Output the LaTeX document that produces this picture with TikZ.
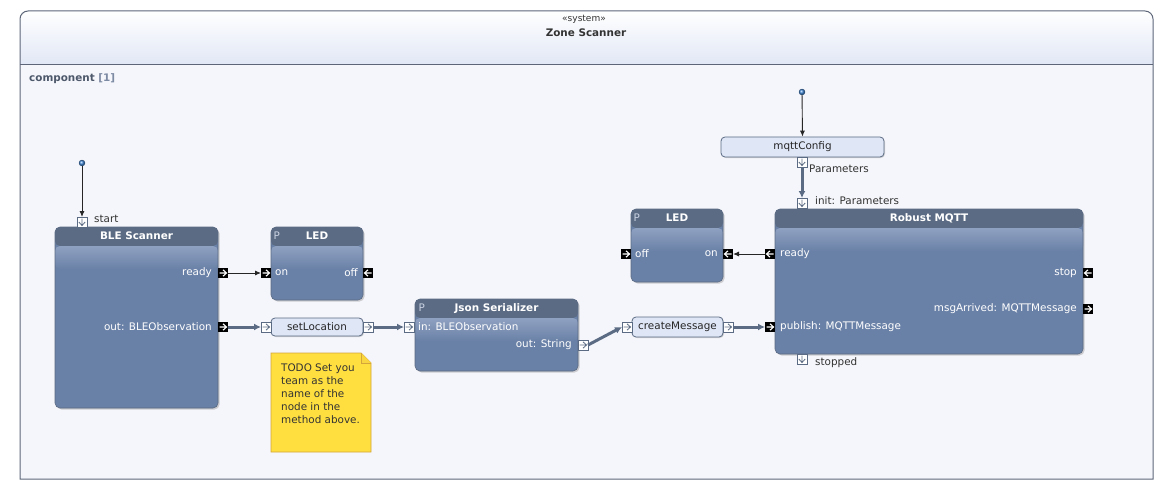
\documentclass[tikz,border=0pt]{standalone}
\usepackage{fontspec}
\setmainfont{DejaVu Sans}
\usetikzlibrary{arrows.meta,positioning,shadows}
\definecolor{frameline}{HTML}{5D6679}
\definecolor{framehead}{HTML}{E1E7F5}
\definecolor{framebody}{HTML}{F5F6FB}
\definecolor{blockhead}{HTML}{5B6B83}
\definecolor{blockband}{HTML}{8FA1C1}
\definecolor{blockbody}{HTML}{6A81A7}
\definecolor{flowline}{HTML}{5B6B83}
\definecolor{opfill}{HTML}{DFE6F6}
\definecolor{notefill}{HTML}{FFDF40}
\definecolor{noteline}{HTML}{D4A53A}
\definecolor{labeltext}{HTML}{333333}
\definecolor{comptext}{HTML}{4D586B}
\definecolor{compindex}{HTML}{7D8AA3}
\definecolor{pintext}{HTML}{C9D2E3}
\definecolor{dotblue}{HTML}{3C84D4}
\newcommand{\lblsize}{\fontsize{10.4pt}{12.8pt}\selectfont}
% pin glyphs: right, left, down
\newcommand{\pinpathr}{(path picture bounding box.center) ++(-3.5pt,0pt) -- ++(7pt,0pt)
  ++(-3.5pt,3.2pt) -- ++(3.5pt,-3.2pt) -- ++(-3.5pt,-3.2pt)}
\newcommand{\pinpathl}{(path picture bounding box.center) ++(3.5pt,0pt) -- ++(-7pt,0pt)
  ++(3.5pt,3.2pt) -- ++(-3.5pt,-3.2pt) -- ++(3.5pt,-3.2pt)}
\newcommand{\pinpathd}{(path picture bounding box.center) ++(0pt,3.5pt) -- ++(0pt,-7pt)
  ++(-3.2pt,3.5pt) -- ++(3.2pt,-3.5pt) -- ++(3.2pt,3.5pt)}
\tikzset{
  blockbox/.style={draw=blockhead, line width=0.6pt, fill=blockbody, rounded corners=5pt,
    inner sep=0pt, drop shadow={shadow xshift=1.5pt,shadow yshift=-1.5pt,opacity=0.35},
    path picture={
      \fill[blockhead] ([yshift=1pt]path picture bounding box.north west)
        rectangle ([yshift=-19pt]path picture bounding box.north east);
      \shade[top color=blockband, bottom color=blockbody]
        ([yshift=-19pt]path picture bounding box.north west)
        rectangle ([yshift=-42pt]path picture bounding box.north east);}},
  blocktitle/.style={font=\lblsize\bfseries, text=white, inner sep=1pt},
  ptag/.style={font=\lblsize, text=pintext, inner sep=1pt},
  inlabel/.style={font=\lblsize, text=white, inner sep=1pt},
  outlabel/.style={font=\lblsize, text=labeltext, inner sep=1pt},
  opbox/.style={draw=flowline, line width=0.8pt, fill=opfill, rounded corners=4pt,
    font=\lblsize, text=black!85, inner sep=0pt,
    drop shadow={shadow xshift=1pt,shadow yshift=-1pt,opacity=0.3}},
  pin/.style={rectangle, inner sep=0pt, outer sep=0pt, minimum size=10pt},
  blackpin/.style={pin, fill=black, path picture={
    \draw[white, line width=1.1pt] \csname pinpath#1\endcsname;}},
  whitepin/.style={pin, fill=white, draw=flowline, line width=0.6pt, path picture={
    \draw[flowline, line width=0.8pt] \csname pinpath#1\endcsname;}},
  startdot/.style={circle, inner sep=0pt, minimum size=6pt, shading=ball, ball color=dotblue,
    draw=dotblue!50!black, line width=0.3pt},
  ctrl/.style={draw=black!85, line width=0.9pt, -{Latex[length=6pt,width=5pt]}},
  flow/.style={draw=flowline, line width=3pt, -{Latex[length=7pt,width=7pt]}},
}
\begin{document}
\begin{tikzpicture}[x=1pt,y=-1pt]
\useasboundingbox (0,0) rectangle (1167,492);
% frame
\fill[framebody] (20,65) rectangle (1153,479);
\shade[top color=white, bottom color=framehead] (20,65) -- (20,19) .. controls (20,14.6) and (23.6,11) .. (28,11)
  -- (1145,11) .. controls (1149.4,11) and (1153,14.6) .. (1153,19) -- (1153,65) -- cycle;
\draw[frameline, line width=1pt] (20,479) -- (20,19) .. controls (20,14.6) and (23.6,11) .. (28,11)
  -- (1145,11) .. controls (1149.4,11) and (1153,14.6) .. (1153,19) -- (1153,479) -- cycle;
\draw[frameline, line width=1pt] (20,65) -- (1153,65);
\node[font=\fontsize{9pt}{11pt}\selectfont, text=labeltext] (sysTag) at (584,19) {«system»};
\node[font=\lblsize\bfseries, text=labeltext] (sysName) at (586,33) {Zone Scanner};
\node[anchor=west, font=\lblsize\bfseries, inner sep=1pt] (compName) at (28,79)
  {\textcolor{comptext}{component} \textcolor{compindex}{[1]}};
%
% blocks
\node[blockbox, minimum width=163pt, minimum height=181pt] (bleBlk) at (136.5,317.5) {};
\node[blockbox, minimum width=92pt, minimum height=73pt] (ledA) at (317,263.5) {};
\node[blockbox, minimum width=163pt, minimum height=72pt] (jsonBlk) at (496.5,335) {};
\node[blockbox, minimum width=92pt, minimum height=73pt] (ledB) at (677,245.5) {};
\node[blockbox, minimum width=308pt, minimum height=145pt] (mqttBlk) at (929,281.5) {};
\node[blocktitle] (bleTitle) at ([yshift=-9.5pt]bleBlk.north) {BLE Scanner};
\node[blocktitle] (ledATitle) at ([yshift=-9.5pt]ledA.north) {LED};
\node[ptag] (ledATag) at ([xshift=6pt,yshift=-9.5pt]ledA.north west) {P};
\node[blocktitle] (jsonTitle) at ([yshift=-9.5pt]jsonBlk.north) {Json Serializer};
\node[ptag] (jsonTag) at ([xshift=7pt,yshift=-9.5pt]jsonBlk.north west) {P};
\node[blocktitle] (ledBTitle) at ([yshift=-9.5pt]ledB.north) {LED};
\node[ptag] (ledBTag) at ([xshift=6pt,yshift=-9.5pt]ledB.north west) {P};
\node[blocktitle] (mqttTitle) at ([yshift=-9.5pt]mqttBlk.north) {Robust MQTT};
%
% operations
\node[opbox, minimum width=92pt, minimum height=18pt] (setLoc) at (317,327) {setLocation};
\node[opbox, minimum width=91pt, minimum height=20pt] (makeMsg) at (677.5,327) {createMessage};
\node[opbox, minimum width=163pt, minimum height=20pt] (mqttCfg) at (802.5,147) {mqttConfig};
%
% pins
\node[whitepin=d] (bleStart) at (82,222) {};
\node[blackpin=r] (bleReady) at (223,273) {};
\node[blackpin=r] (bleOut) at (223,327) {};
\node[blackpin=r] (ledAOn) at (266,273) {};
\node[blackpin=l] (ledAOff) at (368,273) {};
\node[whitepin=r] (setLocIn) at (266,327) {};
\node[whitepin=r] (setLocOut) at (368,327) {};
\node[whitepin=r] (jsonIn) at (409,327) {};
\node[whitepin=r] (jsonOut) at (583,345) {};
\node[whitepin=r] (makeMsgIn) at (627,327) {};
\node[whitepin=r] (makeMsgOut) at (728,327) {};
\node[blackpin=r] (mqttPublish) at (770,327) {};
\node[blackpin=l] (mqttReady) at (770,254) {};
\node[blackpin=l] (ledBOn) at (728,254) {};
\node[blackpin=r] (ledBOff) at (626,254) {};
\node[blackpin=l] (mqttStop) at (1088,273) {};
\node[blackpin=r] (mqttMsg) at (1088,309) {};
\node[whitepin=d] (mqttInit) at (802,203) {};
\node[whitepin=d] (mqttStopped) at (802,359) {};
\node[whitepin=d] (cfgOut) at (802,162) {};
%
% pin labels
\node[outlabel, right=6pt of bleStart, yshift=3pt] (bleStartLbl) {start};
\node[inlabel, left=5pt of bleReady] (bleReadyLbl) {ready};
\node[inlabel, left=5pt of bleOut] (bleOutLbl) {out: BLEObservation};
\node[inlabel, right=3pt of ledAOn] (ledAOnLbl) {on};
\node[inlabel, left=4pt of ledAOff] (ledAOffLbl) {off};
\node[inlabel, right=3pt of jsonIn] (jsonInLbl) {in: BLEObservation};
\node[inlabel, left=5pt of jsonOut] (jsonOutLbl) {out: String};
\node[inlabel, right=3pt of ledBOff] (ledBOffLbl) {off};
\node[inlabel, left=4pt of ledBOn] (ledBOnLbl) {on};
\node[inlabel, right=4pt of mqttReady] (mqttReadyLbl) {ready};
\node[inlabel, right=4pt of mqttPublish] (mqttPublishLbl) {publish: MQTTMessage};
\node[inlabel, left=5pt of mqttStop] (mqttStopLbl) {stop};
\node[inlabel, left=5pt of mqttMsg] (mqttMsgLbl) {msgArrived: MQTTMessage};
\node[outlabel, right=1pt of cfgOut, yshift=-7pt, anchor=west] (cfgOutLbl) {Parameters};
\node[outlabel, right=7pt of mqttInit, yshift=2pt] (mqttInitLbl) {init: Parameters};
\node[outlabel, right=7pt of mqttStopped, yshift=-4pt] (mqttStoppedLbl) {stopped};
%
% initial nodes
\node[startdot] (bleDot) at (82,163) {};
\node[startdot] (cfgDot) at (802,92) {};
%
% note
\fill[notefill] (271,353) -- (361,353) -- (371,363) -- (371,452) -- (271,452) -- cycle;
\draw[noteline, line width=0.8pt] (271,353) -- (361,353) -- (371,363) -- (371,452) -- (271,452) -- cycle;
\draw[noteline, line width=0.6pt, fill=notefill!85!noteline] (361,353) -- (361,363) -- (371,363);
\node[anchor=north west, inner sep=0pt, align=left, font=\lblsize, text=labeltext] (todoText) at (281,364)
  {TODO Set you\\team as the\\name of the\\node in the\\method above.};
%
% connectors
\path[ctrl] (bleDot) -- (bleStart.north);
\path[ctrl] (cfgDot) -- (mqttCfg.north);
\path[ctrl] (bleReady.east) -- (ledAOn.west);
\path[ctrl] (mqttReady.west) -- (ledBOn.east);
\path[flow] (bleOut.east) -- (setLocIn.west);
\path[flow] (setLocOut.east) -- (jsonIn.west);
\path[flow] (jsonOut.east) -- (makeMsgIn.west);
\path[flow] (makeMsgOut.east) -- (mqttPublish.west);
\path[flow] (cfgOut.south) -- (mqttInit.north);
\end{tikzpicture}
\end{document}
